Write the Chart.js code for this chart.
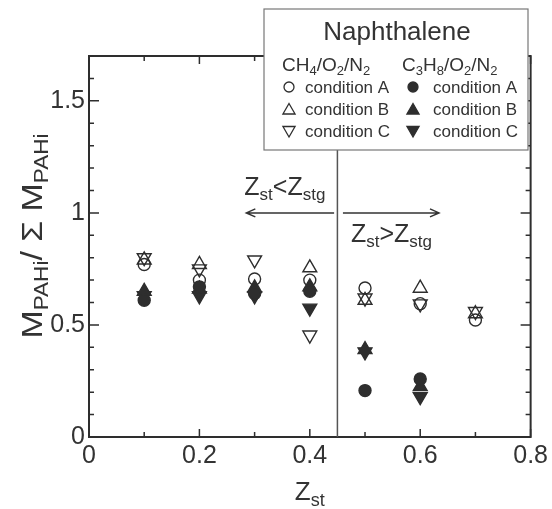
<!DOCTYPE html>
<html>
<head>
<meta charset="utf-8">
<script src="https://cdn.jsdelivr.net/npm/chart.js@4/dist/chart.umd.min.js"></script>
<style>
html,body{margin:0;padding:0;background:#fff;}
#wrap{width:552px;height:509px;position:relative;}
</style>
</head>
<body>
<div id="wrap"><canvas id="c" width="552" height="509"></canvas></div>
<script>
// ---- data ----
const zst = [0.1, 0.2, 0.3, 0.4, 0.5, 0.6, 0.7];
const ch4A  = [0.77, 0.70, 0.705, 0.70, 0.665, 0.595, 0.522];
const ch4B  = [0.79, 0.77, null, 0.755, 0.61, 0.664, 0.55];
const ch4C  = [0.80, 0.75, 0.79, 0.455, 0.62, 0.594, 0.56];
const c3h8A = [0.61, 0.67, 0.64, 0.65, 0.207, 0.259, null];
const c3h8B = [0.65, 0.66, 0.665, 0.67, 0.39, 0.225, null];
const c3h8C = [0.63, 0.63, 0.63, 0.575, 0.38, 0.18, null];
const xLabeledTicks = [0, 0.2, 0.4, 0.6, 0.8];
const yLabeledTicks = [0, 0.5, 1, 1.5];
const zstg = 0.45;
const arrowY = 1.0;
const arrowLeft = [0.285, 0.444];
const arrowRight = [0.46, 0.634];

const INK = '#2e2e2e';
const FONT = '"Liberation Sans", Arial, sans-serif';

function pts(ys){ return zst.map((x,i)=>({x:x, y:ys[i]})).filter(p=>p.y!==null); }
function ds(label, ys, style, rot, filled, r){
  return {label, data: pts(ys), pointStyle: style, rotation: rot,
    pointRadius: r, pointHoverRadius: r, borderWidth: 1.4,
    borderColor: INK, backgroundColor: filled ? INK : 'rgba(0,0,0,0)', showLine:false};
}

function near(v, arr){ return arr.some(a => Math.abs(a - v) < 1e-6); }

function drawRich(ctx, parts, x, y){
  let cx = x;
  for (const p of parts){
    ctx.font = p.size + 'px ' + FONT;
    ctx.fillText(p.t, cx, y + (p.dy||0));
    cx += ctx.measureText(p.t).width;
  }
  return cx - x;
}
function richWidth(ctx, parts){
  let w = 0;
  for (const p of parts){ ctx.font = p.size + 'px ' + FONT; w += ctx.measureText(p.t).width; }
  return w;
}

const deco = {
  id: 'deco',
  afterDraw(chart){
    const ctx = chart.ctx, a = chart.chartArea;
    const xs = chart.scales.x, ys = chart.scales.y;
    ctx.save();
    // frame
    ctx.strokeStyle = INK; ctx.lineWidth = 2;
    ctx.strokeRect(a.left, a.top, a.right - a.left, a.bottom - a.top);
    // ticks inward
    ctx.lineWidth = 1.5;
    xs.ticks.forEach(t => {
      const px = xs.getPixelForValue(t.value);
      const L = near(t.value, xLabeledTicks) ? 8 : 5;
      ctx.beginPath();
      ctx.moveTo(px, a.bottom); ctx.lineTo(px, a.bottom - L);
      ctx.moveTo(px, a.top); ctx.lineTo(px, a.top + L);
      ctx.stroke();
    });
    ys.ticks.forEach(t => {
      const py = ys.getPixelForValue(t.value);
      const L = near(t.value, yLabeledTicks) ? 10 : 5;
      ctx.beginPath();
      ctx.moveTo(a.left, py); ctx.lineTo(a.left + L, py);
      ctx.moveTo(a.right, py); ctx.lineTo(a.right - L, py);
      ctx.stroke();
    });
    // vertical Zstg line
    const lx = xs.getPixelForValue(zstg);
    ctx.strokeStyle = '#555'; ctx.lineWidth = 1.5;
    ctx.beginPath(); ctx.moveTo(lx, a.bottom); ctx.lineTo(lx, a.top); ctx.stroke();
    // arrows
    const ay = ys.getPixelForValue(arrowY);
    ctx.strokeStyle = '#333'; ctx.lineWidth = 1.5;
    const l0 = xs.getPixelForValue(arrowLeft[0]), l1 = xs.getPixelForValue(arrowLeft[1]);
    ctx.beginPath(); ctx.moveTo(l1, ay); ctx.lineTo(l0, ay);
    ctx.moveTo(l0 + 9, ay - 4); ctx.lineTo(l0, ay); ctx.lineTo(l0 + 9, ay + 4); ctx.stroke();
    const r0 = xs.getPixelForValue(arrowRight[0]), r1 = xs.getPixelForValue(arrowRight[1]);
    ctx.beginPath(); ctx.moveTo(r0, ay); ctx.lineTo(r1, ay);
    ctx.moveTo(r1 - 9, ay - 4); ctx.lineTo(r1, ay); ctx.lineTo(r1 - 9, ay + 4); ctx.stroke();
    // arrow labels
    ctx.fillStyle = '#333'; ctx.textBaseline = 'alphabetic'; ctx.textAlign = 'left';
    const lt = [{t:'Z',size:25},{t:'st',size:17,dy:5},{t:'<Z',size:25},{t:'stg',size:17,dy:5}];
    drawRich(ctx, lt, l0 - 2, ay - 18);
    const rt = [{t:'Z',size:25},{t:'st',size:17,dy:5},{t:'>Z',size:25},{t:'stg',size:17,dy:5}];
    drawRich(ctx, rt, r0 + 8, ay + 29);
    // x title
    const xt = [{t:'Z',size:26},{t:'st',size:18,dy:6}];
    const xw = richWidth(ctx, xt);
    drawRich(ctx, xt, (a.left + a.right)/2 - xw/2, 500);
    // y title
    ctx.save();
    ctx.translate(42, 236);
    ctx.rotate(-Math.PI/2);
    const yt = [{t:'M',size:30},{t:'PAHi',size:20,dy:6},{t:'/ \u03A3 M',size:30},{t:'PAHi',size:20,dy:6}];
    const yw = richWidth(ctx, yt);
    const target = 205;
    ctx.scale(target / yw, 1);
    drawRich(ctx, yt, -yw/2, 0);
    ctx.restore();
    // legend box
    const bx = 264, by = 9, bw = 264, bh = 141;
    ctx.fillStyle = '#fff'; ctx.fillRect(bx, by, bw, bh);
    ctx.strokeStyle = '#777'; ctx.lineWidth = 1.2;
    ctx.strokeRect(bx, by, bw, bh);
    ctx.fillStyle = '#333';
    ctx.font = '26px ' + FONT; ctx.textAlign = 'center';
    ctx.fillText('Naphthalene', 397, 40);
    ctx.textAlign = 'left';
    drawRich(ctx, [{t:'CH',size:19},{t:'4',size:13,dy:4},{t:'/O',size:19},{t:'2',size:13,dy:4},{t:'/N',size:19},{t:'2',size:13,dy:4}], 282, 71);
    drawRich(ctx, [{t:'C',size:19},{t:'3',size:13,dy:4},{t:'H',size:19},{t:'8',size:13,dy:4},{t:'/O',size:19},{t:'2',size:13,dy:4},{t:'/N',size:19},{t:'2',size:13,dy:4}], 402, 71);
    const rows = [['condition A','circle',0,5],['condition B','triangle',0,7],['condition C','triangle',180,7]];
    rows.forEach((r, i) => {
      const yy = 93 + i*22;
      ctx.font = '17px ' + FONT; ctx.fillStyle = '#333';
      ctx.fillText(r[0], 305, yy);
      ctx.fillText(r[0], 433, yy);
      const cy = yy - 6 + (r[1]==='triangle' ? (r[2] ? -1 : 1.5) : 0);
      ctx.strokeStyle = INK; ctx.lineWidth = 1.3;
      ctx.fillStyle = 'rgba(0,0,0,0)';
      Chart.helpers.drawPoint(ctx, {pointStyle:r[1], radius:r[3], rotation:r[2], borderWidth:1.3}, 289, cy);
      ctx.fillStyle = INK;
      Chart.helpers.drawPoint(ctx, {pointStyle:r[1], radius:r[3], rotation:r[2], borderWidth:1.3}, 413, cy);
    });
    ctx.restore();
  }
};

new Chart(document.getElementById('c'), {
  type: 'scatter',
  data: {
    datasets: [
      ds('C3H8 condition A', c3h8A, 'circle', 0, true, 6),
      ds('C3H8 condition B', c3h8B, 'triangle', 0, true, 8),
      ds('C3H8 condition C', c3h8C, 'triangle', 180, true, 8),
      ds('CH4 condition A', ch4A, 'circle', 0, false, 6),
      ds('CH4 condition B', ch4B, 'triangle', 0, false, 8),
      ds('CH4 condition C', ch4C, 'triangle', 180, false, 8)
    ]
  },
  options: {
    responsive: false, animation: false, devicePixelRatio: 1,
    layout: { padding: { top: 56, right: 20, left: 0, bottom: 0 } },
    plugins: { legend: { display: false }, tooltip: { enabled: false } },
    scales: {
      x: {
        type: 'linear', min: 0, max: 0.8,
        grid: { display: false, drawTicks: false }, border: { display: false },
        afterFit(s){ s.height = 72; },
        ticks: { stepSize: 0.1, autoSkip: false, maxRotation: 0, padding: 4, color: '#333',
          font: { family: FONT, size: 25 },
          callback: v => near(v, xLabeledTicks) ? String(Math.round(v*10)/10) : '' }
      },
      y: {
        type: 'linear', min: 0, max: 1.7,
        grid: { display: false, drawTicks: false }, border: { display: false },
        afterFit(s){ s.width = 89; },
        ticks: { stepSize: 0.1, autoSkip: false, padding: 4, color: '#333',
          font: { family: FONT, size: 25 },
          callback: v => near(v, yLabeledTicks) ? String(Math.round(v*10)/10) : '' }
      }
    }
  },
  plugins: [deco]
});
</script>
</body>
</html>
